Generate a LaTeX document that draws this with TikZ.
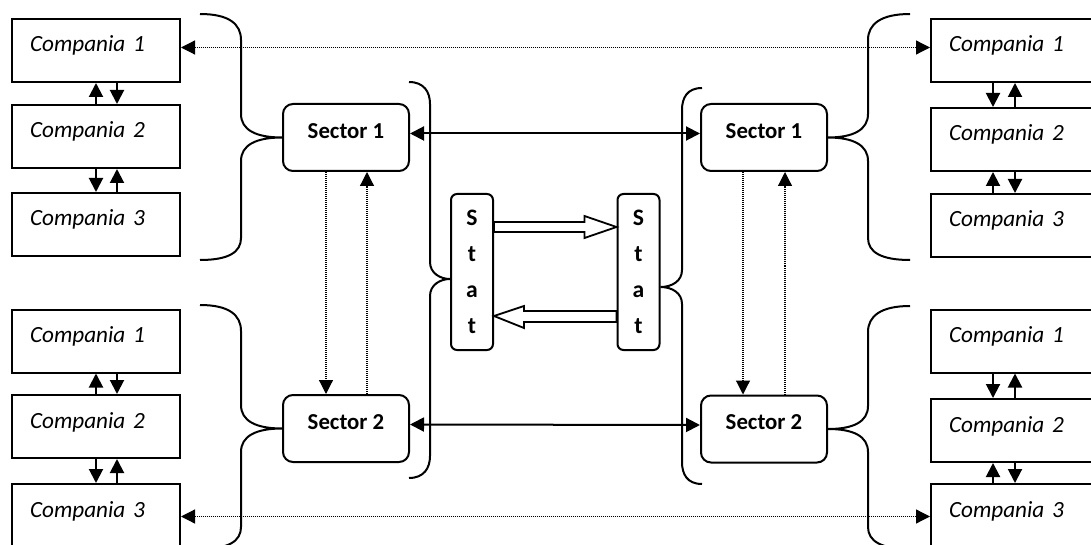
\documentclass[tikz,border=0pt]{standalone}
\usepackage{fontspec}
\setmainfont{Carlito}
\usepackage{tikz}
\usetikzlibrary{calc, arrows.meta}
\tikzset{
    base/.style={
        inner sep=0pt,
        line width=1pt
    },
    company/.style={
        base,
        draw,
        rectangle,
        minimum width=84pt,
        minimum height=31.5pt,
        text width=66pt,
        align=left,
        inner xsep=9pt,
        text height=16.5pt,
        text depth=15pt,
        font=\itshape\fontsize{11.6}{14}\selectfont
    },
    sector/.style={
        base,
        draw,
        rectangle,
        rounded corners=5pt,
        minimum width=63pt,
        minimum height=33.5pt,
        text height=17.2pt,
        text depth=16.3pt,
        align=center,
        font=\bfseries\fontsize{11.4}{14}\selectfont
    },
    stat/.style={
        base,
        draw,
        rectangle,
        rounded corners=3pt,
        minimum width=21pt,
        minimum height=78pt,
        align=center,
        font=\bfseries\fontsize{11.8}{18}\selectfont
    },
    link/.style={
        line width=1pt,
        >={Triangle[length=7pt, width=7pt]}
    },
    dots/.style={
        line width=0.6pt,
        dash pattern=on 0.5pt off 0.5pt,
        >={Triangle[length=7pt, width=7pt]}
    },
    brace/.style={
        line width=1pt
    },
    hollow/.style={
        line width=0.9pt,
        fill=white
    }
}

\begin{document}
\begin{tikzpicture}[x=0.5pt, y=-0.5pt]
  \path[use as bounding box, clip] (0,0) rectangle (1091,545);

  % Companies, left
  \node[company] (tl1) at (96,50.5) {Compania 1};
  \node[company] (tl2) at (96,136.5) {Compania 2};
  \node[company] (tl3) at (96,224.5) {Compania 3};
  \node[company] (bl1) at (96,341) {Compania 1};
  \node[company] (bl2) at (96,426.5) {Compania 2};
  \node[company] (bl3) at (96,515.5) {Compania 3};

  % Companies, right
  \node[company] (tr1) at (1015,50.5) {Compania 1};
  \node[company] (tr2) at (1015,139.5) {Compania 2};
  \node[company] (tr3) at (1015,225.5) {Compania 3};
  \node[company] (br1) at (1015,341) {Compania 1};
  \node[company] (br2) at (1015,430.5) {Compania 2};
  \node[company] (br3) at (1015,515.5) {Compania 3};

  % Sectors and Stat
  \node[sector] (sl1) at (346,137.5) {Sector 1};
  \node[sector] (sl2) at (346,428.5) {Sector 2};
  \node[sector] (sr1) at (764,137.5) {Sector 1};
  \node[sector] (sr2) at (764,429) {Sector 2};
  \node[stat] (statl) at (472,272) {S\\t\\a\\t};
  \node[stat] (statr) at (638.5,272) {S\\t\\a\\t};

  % Braces
  \draw[brace] (200,14) .. controls (229,14) and (241,24) .. (241,40) -- (241,114)
    .. controls (241,130) and (256,137.5) .. (sl1.west)
    .. controls (256,137.5) and (241,145) .. (241,161) -- (241,238)
    .. controls (241,252) and (229,260) .. (200,260);
  \draw[brace] (200,305) .. controls (229,305) and (241,315) .. (241,331) -- (241,405)
    .. controls (241,421) and (256,428.5) .. (sl2.west)
    .. controls (256,428.5) and (241,436) .. (241,452) -- (241,527)
    .. controls (241,541) and (229,549) .. (200,549);
  \draw[brace] (409,82) .. controls (424,82) and (430,92) .. (430,104) -- (430,262)
    .. controls (430,273) and (440,279) .. ([yshift=-3.5pt]statl.west)
    .. controls (440,279) and (430,285) .. (430,296) -- (430,456)
    .. controls (430,468) and (424,478) .. (409,478);
  \draw[brace] (702,88) .. controls (687,88) and (682,98) .. (682,110) -- (682,270)
    .. controls (682,281) and (672,287) .. ([yshift=-7.5pt]statr.east)
    .. controls (672,287) and (682,293) .. (682,304) -- (682,462)
    .. controls (682,474) and (687,484) .. (702,484);
  \draw[brace] (910,14) .. controls (881,14) and (868,24) .. (868,40) -- (868,114)
    .. controls (868,130) and (853,137.5) .. (sr1.east)
    .. controls (853,137.5) and (868,145) .. (868,161) -- (868,238)
    .. controls (868,252) and (881,260) .. (910,260);
  \draw[brace] (910,306) .. controls (881,306) and (868,316) .. (868,332) -- (868,406)
    .. controls (868,422) and (853,429) .. (sr2.east)
    .. controls (853,429) and (868,436) .. (868,452) -- (868,527)
    .. controls (868,541) and (881,549) .. (910,549);

  % Between companies
  \draw[link, ->] (tl2.north) -- (tl1.south);
  \draw[link, ->] ([xshift=10.5pt]tl1.south) -- ([xshift=10.5pt]tl2.north);
  \draw[link, ->] (tl2.south) -- (tl3.north);
  \draw[link, ->] ([xshift=10.5pt]tl3.north) -- ([xshift=10.5pt]tl2.south);
  \draw[link, ->] (bl2.north) -- (bl1.south);
  \draw[link, ->] ([xshift=10.5pt]bl1.south) -- ([xshift=10.5pt]bl2.north);
  \draw[link, ->] (bl2.south) -- (bl3.north);
  \draw[link, ->] ([xshift=10.5pt]bl3.north) -- ([xshift=10.5pt]bl2.south);
  \draw[link, ->] ([xshift=-11pt]tr1.south) -- ([xshift=-11pt]tr2.north);
  \draw[link, ->] (tr2.north) -- (tr1.south);
  \draw[link, ->] ([xshift=-11pt]tr3.north) -- ([xshift=-11pt]tr2.south);
  \draw[link, ->] (tr2.south) -- (tr3.north);
  \draw[link, ->] ([xshift=-11pt]br1.south) -- ([xshift=-11pt]br2.north);
  \draw[link, ->] (br2.north) -- (br1.south);
  \draw[link, ->] ([xshift=-11pt]br3.north) -- ([xshift=-11pt]br2.south);
  \draw[link, ->] (br2.south) -- (br3.north);

  % Between sectors
  \draw[dots, ->] ([xshift=-10pt]sl1.south) -- ([xshift=-10pt]sl2.north);
  \draw[dots, ->] ([xshift=10.5pt]sl2.north) -- ([xshift=10.5pt]sl1.south);
  \draw[dots, ->] ([xshift=-10.5pt]sr1.south) -- ([xshift=-10.5pt]sr2.north);
  \draw[dots, ->] ([xshift=10.5pt]sr2.north) -- ([xshift=10.5pt]sr1.south);
  \draw[link, <->] ([yshift=2pt]sl1.east) -- ([yshift=2pt]sr1.west);
  \draw[link, <->] ([yshift=2pt]sl2.east) -- ([yshift=2pt]sr2.west);
  \draw[dots, <->] ([yshift=1.5pt]tl1.east) -- ([yshift=1.5pt]tr1.west);
  \draw[dots, <->] ([yshift=-0.5pt]bl3.east) -- ([yshift=-0.5pt]br3.west);

  % Stat to Stat
  \draw[hollow] ([yshift=25pt]statl.east) -- ([xshift=-16pt,yshift=25pt]statr.west)
    -- ([xshift=-16pt,yshift=28pt]statr.west) -- ([yshift=22.5pt]statr.west)
    -- ([xshift=-16pt,yshift=17pt]statr.west) -- ([xshift=-16pt,yshift=20pt]statr.west)
    -- ([yshift=20pt]statl.east) -- cycle;
  \draw[hollow] ([yshift=-19.5pt]statr.west) -- ([xshift=15pt,yshift=-19.5pt]statl.east)
    -- ([xshift=15pt,yshift=-17pt]statl.east) -- ([yshift=-22pt]statl.east)
    -- ([xshift=15pt,yshift=-28pt]statl.east) -- ([xshift=15pt,yshift=-25pt]statl.east)
    -- ([yshift=-25pt]statr.west) -- cycle;
\end{tikzpicture}
\end{document}
